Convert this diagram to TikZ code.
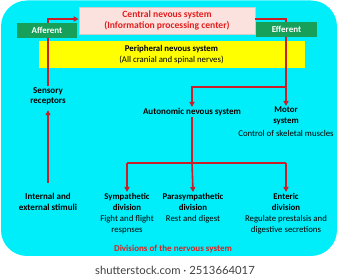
\documentclass[tikz,border=0pt]{standalone}
\usepackage{fontspec}
\setmainfont{Carlito}
\newfontfamily\wmfont{Lato}
\usetikzlibrary{arrows.meta}
\definecolor{bgcyan}{RGB}{0,238,250}
\definecolor{boxgreen}{RGB}{22,160,90}
\definecolor{linered}{RGB}{200,30,40}
\definecolor{textred}{RGB}{225,30,30}
\definecolor{cnspink}{RGB}{252,226,222}
\definecolor{ylw}{RGB}{255,255,0}
\begin{document}
\begin{tikzpicture}[x=1pt,y=-1pt,
  font=\fontsize{8.8}{11}\selectfont,
  conn/.style={draw=linered, line width=1.6pt},
  arr/.style={conn, -{Triangle[length=5pt,width=5pt]}},
  lbl/.style={align=center, inner sep=1pt, anchor=north},
  greenbox/.style={fill=boxgreen, text=white, font=\fontsize{9}{11}\selectfont\bfseries, minimum height=15pt, inner sep=0pt},
]
\useasboundingbox (0,0) rectangle (351,280);
\fill[white] (0,0) rectangle (351,280);
\fill[bgcyan, rounded corners=26pt] (1,0.5) rectangle (337,256);

% boxes
\node[fill=ylw, minimum width=266pt, minimum height=27pt, inner sep=0pt, align=center] (pns) at (171.5,54.5)
  {\textbf{Peripheral nevous system}\\(All cranial and spinal nerves)};
\node[fill=cnspink, draw=gray!40, line width=0.6pt, minimum width=176pt, minimum height=27pt, inner sep=0pt, align=center, text=textred, font=\fontsize{9.6}{11}\selectfont\bfseries] (cns) at (167,20.5)
  {Central nevous system\\(Information processing center)};

% labels
\node[lbl, font=\fontsize{9}{10.5}\selectfont\bfseries] (sens) at (48,86) {Sensory\\receptors};
\node[lbl, font=\fontsize{9}{11}\selectfont\bfseries] (ans) at (192,107) {Autonomic nevous system};
\node[lbl] (motor) at (286,106) {\textbf{Motor}\\\textbf{system}\\[1.5pt]Control of skeletal muscles};
\node[lbl, font=\fontsize{9}{11}\selectfont\bfseries] (stim) at (48,192) {Internal and\\external stimuli};
\node[lbl] (symp) at (127,192) {\textbf{Sympathetic}\\\textbf{division}\\Fight and flight\\respnses};
\node[lbl] (para) at (193,192) {\textbf{Parasympathetic}\\\textbf{division}\\Rest and digest};
\node[lbl] (ent) at (286,192) {\textbf{Enteric}\\\textbf{division}\\Regulate prestalsis and\\digestive secretions};
\node[text=textred, font=\fontsize{9}{10}\selectfont\bfseries, inner sep=0pt] (title) at (173,249) {Divisions of the nervous system};
\node[text=black!75, font=\wmfont\fontsize{11.3}{13}\selectfont, inner sep=0pt] (wm) at (175,270) {shutterstock.com · 2513664017};

% coordinates
\coordinate (br) at (286,87);
\coordinate (barL) at (127,163);
\coordinate (barM) at (192,163);
\coordinate (barR) at (286,163);

% connectors
\draw[arr] (sens.north) |- ([yshift=1.5pt]cns.west);
\draw[arr] ([yshift=1.5pt]cns.east) -| (motor.north);
\draw[arr] (br) -| (ans.north);
\draw[arr, shorten <=9pt, shorten >=4pt] (stim.north) -- (sens.south);
\draw[conn] (ans.south) -- (barM);
\draw[conn] (barL) -- (barR);
\draw[arr] (barL) -- (symp.north);
\draw[arr] (barM) -- (para.north);
\draw[arr] (barR) -- (ent.north);

% green boxes drawn over the lines
\node[greenbox, minimum width=60pt] (aff) at (47,30.5) {Afferent};
\node[greenbox, minimum width=61pt] (eff) at (286.5,29.5) {Efferent};
\end{tikzpicture}
\end{document}
